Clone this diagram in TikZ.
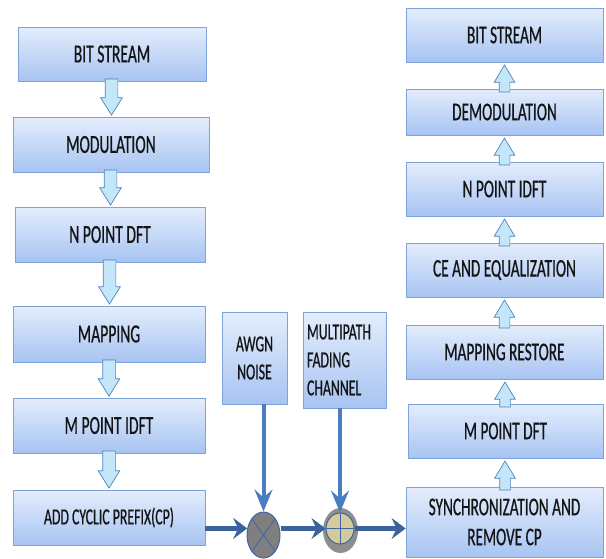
\documentclass[tikz,border=0pt]{standalone}
\usepackage{fontspec}
\setmainfont{Carlito}[FakeStretch=0.6, FakeBold=0.6]
\usetikzlibrary{arrows.meta,shapes.geometric,shapes.arrows,calc}

\definecolor{boxtop}{HTML}{E4EDFC}
\definecolor{boxbot}{HTML}{A7C4F2}
\definecolor{boxedge}{HTML}{7FA2D8}
\definecolor{flowfill}{HTML}{C3E7F8}
\definecolor{flowedge}{HTML}{4F81BD}
\definecolor{sigdark}{HTML}{3A6399}
\definecolor{sigvert}{HTML}{4A7EBE}
\definecolor{multgray}{HTML}{7F7F7F}
\definecolor{sumedge}{HTML}{3D66A3}
\definecolor{addtan}{HTML}{D5CA9E}
\definecolor{shadowgray}{HTML}{8E8E8E}
\definecolor{textgray}{HTML}{141414}

\tikzset{
  block/.style={draw=boxedge, line width=0.8pt, top color=boxtop, bottom color=boxbot,
    text=textgray, inner sep=2pt, align=center},
  txblock/.style={block, font=\fontsize{26}{29}\selectfont},
  rxblock/.style={block, font=\fontsize{25.5}{30}\selectfont},
  chblock/.style={block, font=\fontsize{23}{28}\selectfont},
  downflow/.style={single arrow, draw=flowedge, fill=flowfill, line width=0.7pt, rotate=-90,
    inner xsep=0pt, inner ysep=6pt, minimum width=21pt, single arrow head extend=4.5pt,
    single arrow tip angle=64, xshift=-7pt},
  upflow/.style={single arrow, draw=flowedge, fill=flowfill, line width=0.7pt, rotate=90,
    inner xsep=0pt, inner ysep=5pt, minimum width=20pt, single arrow head extend=5pt,
    single arrow tip angle=62, xshift=-7.5pt},
  sigline/.style={draw=sigdark, line width=4.5pt, -{Stealth[length=14pt, width=21pt, inset=5pt]}},
  chline/.style={draw=sigvert, line width=4pt, -{Stealth[length=22pt, width=18pt, inset=8pt]}},
}

\begin{document}
\begin{tikzpicture}[x=1pt, y=-1pt]
    \useasboundingbox (0,0) rectangle (606,558);

    % Transmitter chain
    \node[txblock, minimum width=188pt, minimum height=54pt] (lbit) at (112,54) {BIT STREAM};
    \node[txblock, minimum width=196pt, minimum height=55pt] (lmod) at (111,144.5) {MODULATION};
    \node[txblock, minimum width=190pt, minimum height=55pt] (ldft) at (110,234.5) {N POINT DFT};
    \node[txblock, minimum width=192pt, minimum height=56pt] (lmap) at (109,334) {MAPPING};
    \node[txblock, minimum width=192pt, minimum height=55pt] (lidft) at (109,425.5) {M POINT IDFT};
    \node[block, font=\fontsize{23}{26}\selectfont, minimum width=192pt, minimum height=55pt] (lcp) at (109,517.5) {ADD CYCLIC PREFIX(CP)};

    \node[downflow, minimum height=36pt] (ta1) at ($(lbit.south)!0.5!(lmod.north)$) {};
    \node[downflow, minimum height=35pt] (ta2) at ($(lmod.south)!0.5!(ldft.north)$) {};
    \node[downflow, minimum height=44pt] (ta3) at ($(ldft.south)!0.5!(lmap.north)$) {};
    \node[downflow, minimum height=36pt] (ta4) at ($(lmap.south)!0.5!(lidft.north)$) {};
    \node[downflow, minimum height=37pt] (ta5) at ($(lidft.south)!0.5!(lcp.north)$) {};

    % Receiver chain
    \node[rxblock, minimum width=197pt, minimum height=54pt] (rbit) at (504.5,35) {BIT STREAM};
    \node[rxblock, minimum width=197pt, minimum height=46pt] (rdemod) at (504.5,112) {DEMODULATION};
    \node[rxblock, minimum width=197pt, minimum height=54pt] (ridft) at (504.5,189) {N POINT IDFT};
    \node[rxblock, minimum width=197pt, minimum height=54pt] (rce) at (504.5,270) {CE AND EQUALIZATION};
    \node[rxblock, minimum width=197pt, minimum height=54pt] (rmaprest) at (504.5,352) {MAPPING RESTORE};
    \node[rxblock, minimum width=195pt, minimum height=54pt] (rmdft) at (505.5,431) {M POINT DFT};
    \node[rxblock, minimum width=197pt, minimum height=70pt] (rsync) at (504.5,522) {SYNCHRONIZATION AND\\REMOVE CP};

    \node[upflow, minimum height=27pt] (ra1) at ($(rdemod.north)!0.5!(rbit.south)$) {};
    \node[upflow, minimum height=27pt] (ra2) at ($(ridft.north)!0.5!(rdemod.south)$) {};
    \node[upflow, minimum height=27pt] (ra3) at ($(rce.north)!0.5!(ridft.south)$) {};
    \node[upflow, minimum height=28pt] (ra4) at ($(rmaprest.north)!0.5!(rce.south)$) {};
    \node[upflow, minimum height=25pt] (ra5) at ($(rmdft.north)!0.5!(rmaprest.south)$) {};
    \node[upflow, minimum height=29pt] (ra6) at ($(rsync.north)!0.5!(rmdft.south)$) {};

    % Channel
    \node[chblock, minimum width=65pt, minimum height=92pt] (awgn) at (254.5,358) {AWGN\\NOISE};
    \node[chblock, align=left, text width=75pt, inner xsep=4pt, minimum height=96pt] (multi) at (344.5,360) {MULTIPATH\\FADING\\CHANNEL};

    \node[ellipse, draw=sumedge, line width=1pt, fill=multgray, inner sep=0pt,
      minimum width=33pt, minimum height=46pt,
      path picture={\draw[sumedge, line width=0.8pt]
        (path picture bounding box.north west) -- (path picture bounding box.south east)
        (path picture bounding box.north east) -- (path picture bounding box.south west);}]
      (mult) at (263.5,535) {};
    \node[ellipse, fill=shadowgray, inner sep=0pt, minimum width=35pt, minimum height=45pt]
      (addshadow) at (340.5,530.5) {};
    \node[ellipse, draw=sumedge, line width=1pt, fill=addtan, inner sep=0pt,
      minimum width=28pt, minimum height=31pt,
      path picture={\draw[sumedge, line width=0.8pt]
        (path picture bounding box.north) -- (path picture bounding box.south)
        (path picture bounding box.west) -- (path picture bounding box.east);}]
      (adder) at (340,528.5) {};

    % Signal path
    \draw[sigline] (lcp.east |- mult.158) -- (mult.158);
    \draw[sigline] (adder.west -| mult.east) -- (adder.west);
    \draw[sigline] (adder.east) -- (rsync.west |- adder.east);
    \draw[chline] (mult.north |- awgn.south) -- (mult.north);
    \draw[chline] (adder.north |- multi.south) -- (adder.north);
\end{tikzpicture}
\end{document}
